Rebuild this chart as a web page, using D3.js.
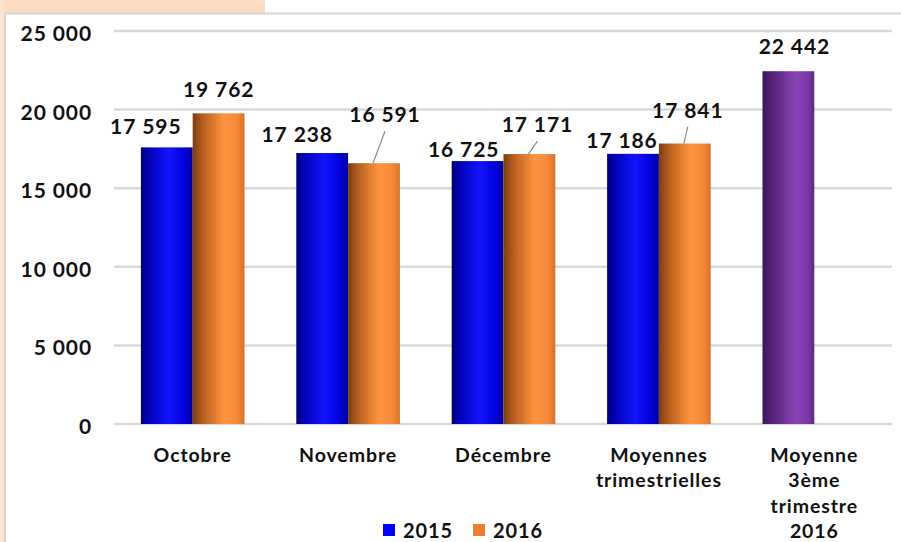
<!DOCTYPE html>
<html><head><meta charset="utf-8">
<script src="https://cdn.jsdelivr.net/npm/d3@7"></script>
<style>html,body{margin:0;padding:0;background:#fff;}svg{display:block;}</style>
</head><body>
<script>
const categories = [["Octobre"],["Novembre"],["Décembre"],["Moyennes","trimestrielles"],["Moyenne","3ème","trimestre","2016"]];
const seriesNames = ["2015","2016"];
const values2015 = [17595, 17238, 16725, 17186];
const values2016 = [19762, 16591, 17171, 17841];
const valueQ3 = [22442];
const yTicks = [0, 5000, 10000, 15000, 20000, 25000];
// label layout offsets (px): [dx, dy, leader]
const labelLayout2015 = [[-21,-13,0],[-25,-11,0],[-14,-4,0],[-11,-6,0]];
const labelLayout2016 = [[0,-16,0],[11,-41,1],[8,-22,1],[3,-26,1]];
const labelLayoutQ3 = [[6,-17,0]];

const W = 901, H = 542;
const fmt = v => d3.format(",")(v).replace(/,/g, " ");
const FONT = "Lato, 'Open Sans', sans-serif";

const svg = d3.select("body").append("svg").attr("width", W).attr("height", H);
const defs = svg.append("defs");
function grad(id, stops){
  const g = defs.append("linearGradient").attr("id", id).attr("x1","0").attr("x2","1").attr("y1","0").attr("y2","0");
  stops.forEach(s => g.append("stop").attr("offset", s[0]).attr("stop-color", s[1]));
}
grad("gBlue", [[0,"#00006e"],[0.12,"#0000b0"],[0.55,"#1414ff"],[0.85,"#0000d8"],[1,"#00009a"]]);
grad("gOrange", [[0,"#7a3d14"],[0.2,"#b8601f"],[0.6,"#ff943f"],[0.85,"#f5893a"],[1,"#d87228"]]);
grad("gPurple", [[0,"#3a1656"],[0.2,"#55237c"],[0.65,"#8a44b4"],[0.88,"#7a38a4"],[1,"#5e2a82"]]);

// frame
svg.append("rect").attr("x",0).attr("y",0).attr("width",265).attr("height",13).attr("fill","#fddcc2");
svg.append("rect").attr("x",0).attr("y",0).attr("width",4).attr("height",H).attr("fill","#fde4cf");
svg.append("line").attr("x1",4).attr("x2",W).attr("y1",13.5).attr("y2",13.5).attr("stroke","#d6d6d6").attr("stroke-width",2);
svg.append("line").attr("x1",5).attr("x2",5).attr("y1",13).attr("y2",H).attr("stroke","#d6d6d6").attr("stroke-width",2);

const x = d3.scaleBand().domain(d3.range(categories.length)).range([115, 892]).paddingInner(0).paddingOuter(0);
const bw = x.bandwidth();
const xs = d3.scaleBand().domain(seriesNames).range([bw/6, bw*5/6]);
const y = d3.scaleLinear().domain([0, 25000]).range([424, 31]);

// gridlines
svg.append("g").selectAll("line").data(yTicks).join("line")
  .attr("x1", 114).attr("x2", 892).attr("y1", d => y(d)).attr("y2", d => y(d))
  .attr("stroke", "#d9d9d9").attr("stroke-width", 2.5);

function styleText(sel, size, ls){
  return sel.attr("font-family", FONT).attr("font-weight","bold").attr("font-size", size)
    .attr("letter-spacing", ls).attr("fill","#111");
}

// y tick labels
styleText(svg.append("g").selectAll("text").data(yTicks).join("text"), 21, 0.9)
  .attr("x", 92).attr("y", d => y(d) + 10).attr("text-anchor","end")
  .text(d => fmt(d));

// bars
const bars = [];
values2015.forEach((v,i) => bars.push({v, x: x(i) + xs("2015"), fill:"url(#gBlue)", lay: labelLayout2015[i]}));
values2016.forEach((v,i) => bars.push({v, x: x(i) + xs("2016"), fill:"url(#gOrange)", lay: labelLayout2016[i]}));
valueQ3.forEach((v,i) => bars.push({v, x: x(categories.length-1) + xs("2015"), fill:"url(#gPurple)", lay: labelLayoutQ3[i]}));

svg.append("g").selectAll("rect").data(bars).join("rect")
  .attr("x", d => d.x).attr("width", xs.bandwidth())
  .attr("y", d => y(d.v)).attr("height", d => y(0) - y(d.v))
  .attr("fill", d => d.fill);

// leader lines
svg.append("g").selectAll("line").data(bars.filter(d => d.lay[2])).join("line")
  .attr("x1", d => d.x + xs.bandwidth()/2 + d.lay[0]).attr("y1", d => y(d.v) + d.lay[1] + 9)
  .attr("x2", d => d.x + xs.bandwidth()/2 - 1).attr("y2", d => y(d.v))
  .attr("stroke", "#8c8c8c").attr("stroke-width", 1.2);

// data labels
styleText(svg.append("g").selectAll("text").data(bars).join("text"), 21, 0.9)
  .attr("x", d => d.x + xs.bandwidth()/2 + d.lay[0]).attr("y", d => y(d.v) + d.lay[1])
  .attr("text-anchor","middle")
  .text(d => fmt(d.v));

// category labels
const cg = svg.append("g");
categories.forEach((lines, i) => {
  const t = styleText(cg.append("text"), 19.5, 0.9).attr("text-anchor","middle");
  lines.forEach((ln, j) => t.append("tspan").attr("x", x(i) + bw/2).attr("y", 462 + j*25.3).text(ln));
});

// legend
const legend = [{name: seriesNames[0], c:"#0000ff", x:383},{name: seriesNames[1], c:"#ed7d31", x:473}];
const lg = svg.append("g");
lg.selectAll("rect").data(legend).join("rect")
  .attr("x", d => d.x).attr("y", 524).attr("width", 12).attr("height", 12).attr("fill", d => d.c);
styleText(lg.selectAll("text").data(legend).join("text"), 20, 0.9)
  .attr("x", d => d.x + 20).attr("y", 538)
  .text(d => d.name);
</script>
</body></html>
